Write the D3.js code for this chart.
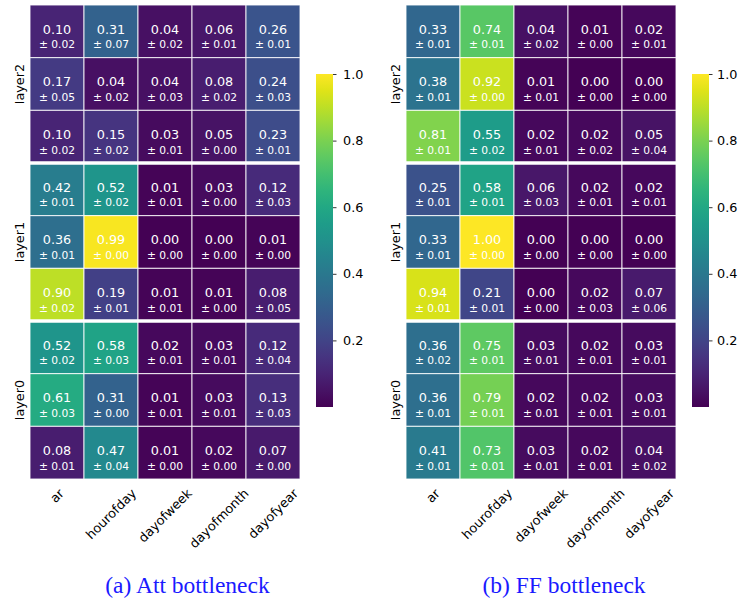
<!DOCTYPE html>
<html>
<head>
<meta charset="utf-8">
<script src="https://cdn.jsdelivr.net/npm/d3@7"></script>
<style>
  html, body { margin: 0; padding: 0; background: #fff; }
  svg { display: block; }
</style>
</head>
<body>
<svg id="chart" width="740" height="601"></svg>
<script>
// Feature columns and layer groups (three rows per layer, top to bottom)
const columns = ["ar", "hourofday", "dayofweek", "dayofmonth", "dayofyear"];
const layers = ["layer2", "layer1", "layer0"];
const rowsPerLayer = 3;

// Attention bottleneck: mean and std per row
const attMean = [
  [0.10, 0.31, 0.04, 0.06, 0.26],
  [0.17, 0.04, 0.04, 0.08, 0.24],
  [0.10, 0.15, 0.03, 0.05, 0.23],
  [0.42, 0.52, 0.01, 0.03, 0.12],
  [0.36, 0.99, 0.00, 0.00, 0.01],
  [0.90, 0.19, 0.01, 0.01, 0.08],
  [0.52, 0.58, 0.02, 0.03, 0.12],
  [0.61, 0.31, 0.01, 0.03, 0.13],
  [0.08, 0.47, 0.01, 0.02, 0.07]
];
const attStd = [
  [0.02, 0.07, 0.02, 0.01, 0.01],
  [0.05, 0.02, 0.03, 0.02, 0.03],
  [0.02, 0.02, 0.01, 0.00, 0.01],
  [0.01, 0.02, 0.01, 0.00, 0.03],
  [0.01, 0.00, 0.00, 0.00, 0.00],
  [0.02, 0.01, 0.01, 0.00, 0.05],
  [0.02, 0.03, 0.01, 0.01, 0.04],
  [0.03, 0.00, 0.01, 0.01, 0.03],
  [0.01, 0.04, 0.00, 0.00, 0.00]
];

// Feed-forward bottleneck: mean and std per row
const ffMean = [
  [0.33, 0.74, 0.04, 0.01, 0.02],
  [0.38, 0.92, 0.01, 0.00, 0.00],
  [0.81, 0.55, 0.02, 0.02, 0.05],
  [0.25, 0.58, 0.06, 0.02, 0.02],
  [0.33, 1.00, 0.00, 0.00, 0.00],
  [0.94, 0.21, 0.00, 0.02, 0.07],
  [0.36, 0.75, 0.03, 0.02, 0.03],
  [0.36, 0.79, 0.02, 0.02, 0.03],
  [0.41, 0.73, 0.03, 0.02, 0.04]
];
const ffStd = [
  [0.01, 0.01, 0.02, 0.00, 0.01],
  [0.01, 0.00, 0.01, 0.00, 0.00],
  [0.01, 0.02, 0.01, 0.02, 0.04],
  [0.01, 0.01, 0.03, 0.01, 0.01],
  [0.01, 0.00, 0.00, 0.00, 0.00],
  [0.01, 0.01, 0.00, 0.03, 0.06],
  [0.02, 0.01, 0.01, 0.01, 0.01],
  [0.01, 0.01, 0.01, 0.01, 0.01],
  [0.01, 0.01, 0.01, 0.01, 0.02]
];

const colorTicks = [0.2, 0.4, 0.6, 0.8, 1.0];
const captions = ["(a) Att bottleneck", "(b) FF bottleneck"];

const svg = d3.select("#chart");
const FONT = "'DejaVu Sans', sans-serif";
const color = d3.scaleSequential(d3.interpolateViridis).domain([0, 1]);

// Shared viridis gradient for the colour bars
const defs = svg.append("defs");
const grad = defs.append("linearGradient")
  .attr("id", "viridis").attr("x1", 0).attr("y1", 1).attr("x2", 0).attr("y2", 0);
d3.range(0, 1.0001, 0.05).forEach(t => {
  grad.append("stop").attr("offset", t).attr("stop-color", d3.interpolateViridis(t));
});

const panels = [
  { mean: attMean, std: attStd, x0: 30, cbX: 316, cbLabelPad: 8, caption: captions[0], capX: 187.5 },
  { mean: ffMean, std: ffStd, x0: 406, cbX: 692, cbLabelPad: 6, caption: captions[1], capX: 564 }
];

const gridTop = 5, gridBottom = 479, gridWidth = 270;
const nRows = layers.length * rowsPerLayer;

panels.forEach(p => {
  const g = svg.append("g");
  const x = d3.scaleBand().domain(columns).range([p.x0, p.x0 + gridWidth]);
  const y = d3.scaleBand().domain(d3.range(nRows)).range([gridTop, gridBottom]);
  const cells = [];
  p.mean.forEach((row, r) => row.forEach((v, c) => cells.push({ r, c, v, s: p.std[r][c] })));

  const cell = g.selectAll("g.cell").data(cells).join("g").attr("class", "cell");
  cell.append("rect")
    .attr("x", d => x(columns[d.c]))
    .attr("y", d => y(d.r))
    .attr("width", x.bandwidth())
    .attr("height", y.bandwidth())
    .attr("fill", d => color(d.v))
    .attr("stroke", "#fff").attr("stroke-opacity", 0.85).attr("stroke-width", 1);
  cell.append("text")
    .attr("x", d => x(columns[d.c]) + x.bandwidth() / 2)
    .attr("y", d => y(d.r) + y.bandwidth() * 0.543)
    .attr("text-anchor", "middle")
    .attr("font-family", FONT).attr("font-size", 12.8).attr("fill", "#fff")
    .text(d => d.v.toFixed(2));
  cell.append("text")
    .attr("x", d => x(columns[d.c]) + x.bandwidth() / 2)
    .attr("y", d => y(d.r) + y.bandwidth() * 0.824)
    .attr("text-anchor", "middle")
    .attr("font-family", FONT).attr("font-size", 10.7).attr("fill", "#fff")
    .text(d => "\u00b1 " + d.s.toFixed(2));

  // Thicker separators between layer groups
  d3.range(1, layers.length).forEach(k => {
    g.append("line")
      .attr("x1", p.x0).attr("x2", p.x0 + gridWidth)
      .attr("y1", y(k * rowsPerLayer)).attr("y2", y(k * rowsPerLayer))
      .attr("stroke", "#fff").attr("stroke-width", 3.5);
  });

  // Layer labels
  layers.forEach((name, k) => {
    const cy = y(k * rowsPerLayer) + y.bandwidth() * rowsPerLayer / 2;
    g.append("text")
      .attr("transform", `translate(${p.x0 - 10.5},${cy}) rotate(-90)`)
      .attr("text-anchor", "middle").attr("dominant-baseline", "central")
      .attr("font-family", FONT).attr("font-size", 12.8).attr("fill", "#000")
      .text(name);
  });

  // Column labels rotated 45 degrees, bounding box centred under each column
  columns.forEach(name => {
    const cx = x(name) + x.bandwidth() / 2;
    const t = g.append("text")
      .attr("text-anchor", "middle").attr("dominant-baseline", "central")
      .attr("font-family", FONT).attr("font-size", 12.8).attr("fill", "#000")
      .text(name);
    const L = t.node().getComputedTextLength();
    const h = 12.8;
    const boxH = (L + h) * Math.SQRT1_2;
    const cy = 486.5 + boxH / 2;
    t.attr("x", cx).attr("y", cy).attr("transform", `rotate(-45,${cx},${cy})`);
  });

  // Colour bar
  const cbTop = 74, cbBottom = 407, cbW = 17;
  g.append("rect")
    .attr("x", p.cbX).attr("y", cbTop).attr("width", cbW).attr("height", cbBottom - cbTop)
    .attr("fill", "url(#viridis)");
  const cbScale = d3.scaleLinear().domain([0, 1]).range([cbBottom, cbTop]);
  const axis = g.append("g")
    .attr("transform", `translate(${p.cbX + cbW},0)`)
    .call(d3.axisRight(cbScale).tickValues(colorTicks).tickFormat(d3.format(".1f"))
      .tickSize(3.5).tickPadding(p.cbLabelPad - 3.5 + 2));
  axis.select(".domain").remove();
  axis.selectAll("text").attr("font-family", FONT).attr("font-size", 12.8).attr("fill", "#000");
  axis.selectAll("line").attr("stroke", "#000").attr("stroke-width", 0.8);

  // Caption
  svg.append("text")
    .attr("x", p.capX).attr("y", 593)
    .attr("text-anchor", "middle")
    .attr("font-family", "'Liberation Serif', 'Times New Roman', serif")
    .attr("font-size", 23.5).attr("fill", "#1a1aff")
    .text(p.caption);
});
</script>
</body>
</html>
